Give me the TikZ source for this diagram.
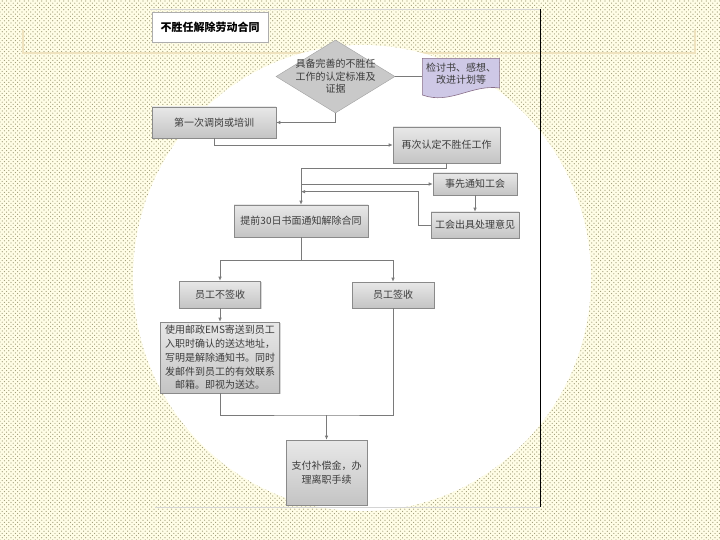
\documentclass[tikz,border=0pt]{standalone}
\usepackage{fontspec}
\setmainfont{Noto Sans CJK SC}
\usepackage{xcolor}
\usepackage{tikz}
\usetikzlibrary{arrows.meta,calc,patterns,positioning,shadows,shapes.geometric}
\definecolor{ChartPaper}{HTML}{FFFDE6}
\definecolor{ChartDot}{HTML}{9A9672}
\definecolor{ChartBand}{HTML}{EFE2BE}
\definecolor{ChartRule}{HTML}{D4D4D4}
\definecolor{ChartLine}{HTML}{7A7A7A}
\definecolor{ChartEdge}{HTML}{8A8A8A}
\definecolor{ChartTop}{HTML}{E8E8E8}
\definecolor{ChartBottom}{HTML}{C4C4C4}
\definecolor{ChartDiamond}{HTML}{C9C9C9}
\definecolor{ChartLilac}{HTML}{CEC8E6}
\definecolor{ChartInk}{HTML}{3C3C3C}
\pgfdeclarepatternformonly{paper dots}{\pgfqpoint{-0.7pt}{-0.7pt}}{\pgfqpoint{3pt}{3pt}}{\pgfqpoint{4.4pt}{4.4pt}}{%
  \pgfpathcircle{\pgfqpoint{0pt}{0pt}}{0.6pt}
  \pgfpathcircle{\pgfqpoint{2.2pt}{2.2pt}}{0.6pt}
  \pgfusepath{fill}}

\begin{document}
\begin{tikzpicture}[x=1pt,y=-1pt,>=Latex,
  stepbox/.style={rectangle,draw=ChartEdge,line width=0.6pt,top color=ChartTop,bottom color=ChartBottom,
    text=ChartInk,font=\fontsize{10}{13.8}\selectfont,align=center,inner sep=1pt,
    drop shadow={shadow xshift=1.2pt,shadow yshift=-1.2pt,opacity=0.3}},
  tagbox/.style={rectangle,draw=ChartEdge!70,fill=white,minimum width=116pt,minimum height=30pt,
    font=\fontsize{11}{13}\selectfont\bfseries,drop shadow={shadow xshift=1pt,shadow yshift=-1pt,opacity=0.3}},
  decision/.style={diamond,draw=ChartEdge!80,fill=ChartDiamond,minimum width=119pt,minimum height=73pt,inner sep=0pt},
  steplabel/.style={text=ChartInk,font=\fontsize{10}{12.5}\selectfont,align=center,inner sep=0pt},
  docbox/.style={rectangle,minimum width=78pt,minimum height=41pt,inner sep=0pt,
    path picture={\filldraw[fill=ChartLilac,draw=ChartEdge!80!violet,line width=0.6pt]
      ([xshift=0.4pt,yshift=-0.4pt]path picture bounding box.north west)
      -- ([xshift=-0.4pt,yshift=-0.4pt]path picture bounding box.north east)
      -- ([xshift=-0.4pt,yshift=11pt]path picture bounding box.south east)
      .. controls ([xshift=-28pt,yshift=15pt]path picture bounding box.south east)
      and ([xshift=28pt,yshift=-6pt]path picture bounding box.south west)
      .. ([xshift=0.4pt,yshift=4pt]path picture bounding box.south west) -- cycle;}},
  flowline/.style={draw=ChartLine,line width=0.7pt},
  flowarrow/.style={flowline,-{Latex[length=4pt,width=3.5pt]}}]
  \useasboundingbox (0,0) rectangle (720,540);
  % paper
  \fill[ChartPaper] (0,0) rectangle (720,540);
  \fill[pattern=paper dots,pattern color=ChartDot] (0,0) rectangle (720,540);
  \draw[ChartBand,line width=1.2pt] (23,30) -- (23,53) -- (695,53) -- (695,30);
  \fill[white] (362,278) ellipse [x radius=229,y radius=233];
  \draw[ChartRule] (150,9) -- (540,9);
  \draw[ChartRule] (155,507) -- (540,507);
  \draw[black,line width=1pt] (540,9) -- (540,507);

  % steps
  \node[tagbox] (title) at (210,27) {不胜任解除劳动合同};
  \node[decision,label={[steplabel]center:{具备完善的不胜任\\工作的认定标准及\\证据}}] (crit) at (335.5,76.5) {};
  \node[docbox,label={[steplabel,yshift=5pt]center:{检讨书、感想、\\改进计划等}}] (plan) at (461,78.5) {};
  \node[stepbox,minimum width=124pt,minimum height=31pt] (adjust) at (214,122.5) {第一次调岗或培训};
  \node[stepbox,minimum width=107pt,minimum height=36pt] (recheck) at (446.5,145) {再次认定不胜任工作};
  \node[stepbox,minimum width=84pt,minimum height=22pt] (union) at (475,184) {事先通知工会};
  \node[stepbox,minimum width=88pt,minimum height=26pt] (opinion) at (475,225) {工会出具处理意见};
  \node[stepbox,minimum width=134pt,minimum height=32pt] (notice) at (301,221) {提前30日书面通知解除合同};
  \node[stepbox,minimum width=81pt,minimum height=27pt] (refuse) at (220,294.5) {员工不签收};
  \node[stepbox,minimum width=82pt,minimum height=26pt] (accept) at (393,295) {员工签收};
  \node[stepbox,minimum width=119pt,minimum height=71pt] (mail) at (220,357.5)
    {使用邮政EMS寄送到员工\\入职时确认的送达地址，\\写明是解除通知书。同时\\发邮件到员工的有效联系\\邮箱。即视为送达。};
  \node[stepbox,minimum width=81pt,minimum height=65pt] (pay) at (326.5,472.5) {支付补偿金，办\\理离职手续};

  % connectors
  \draw[flowline] (crit.east) -- (crit.east -| plan.west);
  \draw[flowarrow] (crit.south) |- (adjust.east);
  \draw[flowarrow] (adjust.south) |- (recheck.west);
  \draw[flowarrow] (recheck.south) -- ++(0,5) -| (notice.north);
  \draw[flowarrow] (notice.north |- union.west) -- (union.west);
  \draw[flowarrow] (union.south) -- (opinion.north);
  \draw[flowarrow] (opinion.west) -- ++(-12,0) |- ($(notice.north)+(0,-13)$);
  \coordinate (split) at ($(notice.south)+(0,23)$);
  \draw[flowarrow] (notice.south) -- (split) -| (refuse.north);
  \draw[flowarrow] (split) -| (accept.north);
  \draw[flowarrow] (refuse.south) -- (mail.north);
  \coordinate (merge) at (pay.north |- 0,415);
  \draw[flowline] (mail.south) |- (merge) -| (accept.south);
  \draw[flowarrow] (merge) -- (pay.north);
\end{tikzpicture}
\end{document}
